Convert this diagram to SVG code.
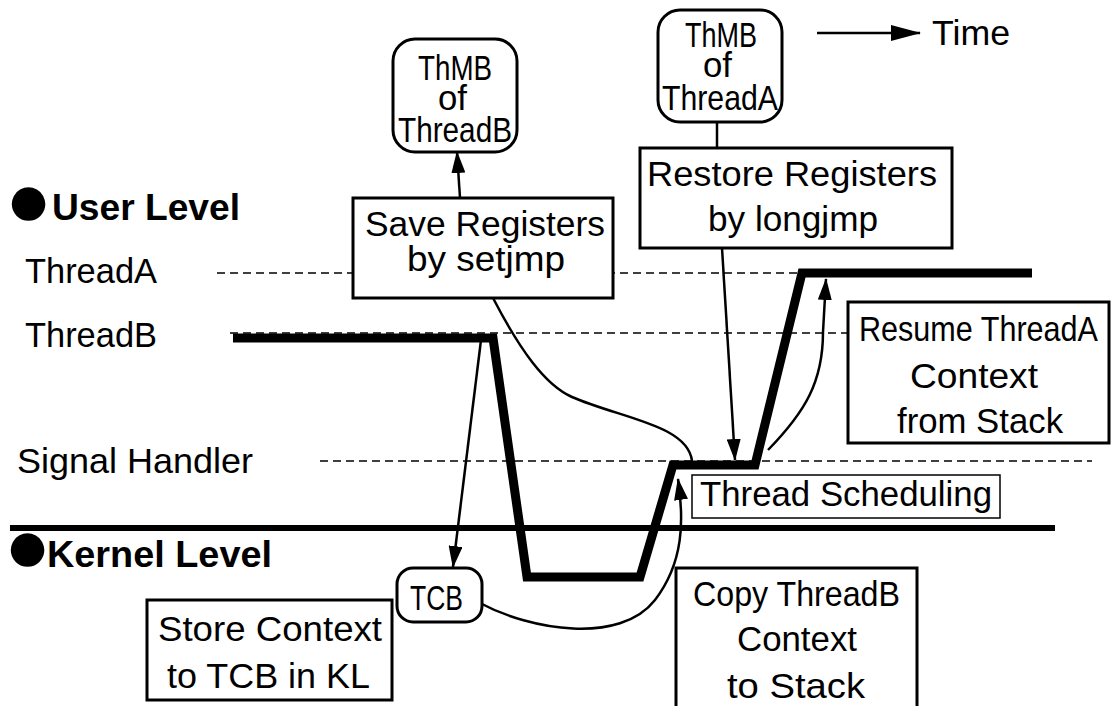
<svg xmlns="http://www.w3.org/2000/svg" width="1111" height="706" viewBox="0 0 1111 706">
<defs>
<marker id="ah" markerUnits="userSpaceOnUse" markerWidth="22" markerHeight="14" refX="21" refY="7" orient="auto"><path d="M0,0 L22,7 L0,14 z" fill="#000"/></marker>
<marker id="ahT" markerUnits="userSpaceOnUse" markerWidth="30" markerHeight="16" refX="29" refY="8" orient="auto"><path d="M0,0 L30,8 L0,16 z" fill="#000"/></marker>
</defs>
<style>
text{font-family:"Liberation Sans",Arial,sans-serif;font-size:35px;fill:#000}
.b{font-weight:bold;font-size:37px}
.box{fill:#fff;stroke:#000;stroke-width:3}
.thin{fill:#fff;stroke:#000;stroke-width:1.5}
.dash{stroke:#000;stroke-width:1.3;stroke-dasharray:8 5;fill:none}
.con{stroke:#000;stroke-width:2.5;fill:none}
</style>
<rect width="1111" height="706" fill="#fff"/>
<g id="levels">
<line x1="217" y1="273" x2="802" y2="273" class="dash"/>
<line x1="230" y1="333" x2="848" y2="333" class="dash"/>
<line x1="320" y1="461" x2="1092" y2="461" class="dash"/>
<line x1="10" y1="528" x2="1055" y2="528" stroke="#000" stroke-width="6"/>
<text class="b" x="5" y="226"><tspan font-size="78">●</tspan><tspan x="52" y="220" textLength="188" lengthAdjust="spacingAndGlyphs">User Level</tspan></text>
<text class="b" x="4" y="572"><tspan font-size="78">●</tspan><tspan x="47" y="567" textLength="225" lengthAdjust="spacingAndGlyphs">Kernel Level</tspan></text>
<text x="25" y="283" font-size="36" textLength="132" lengthAdjust="spacingAndGlyphs">ThreadA</text>
<text x="25" y="347" font-size="36" textLength="132" lengthAdjust="spacingAndGlyphs">ThreadB</text>
<text x="17" y="473" font-size="36" textLength="236" lengthAdjust="spacingAndGlyphs">Signal Handler</text>
</g>
<g id="timeline">
<path d="M233,338 L493,338 L527,577 L640,577 L673,465 L755,465 L802,273 L1032,273" fill="none" stroke="#000" stroke-width="9" stroke-linejoin="miter"/>
</g>
<g id="connectors">
<line x1="460" y1="198" x2="457" y2="152" class="con" marker-end="url(#ah)"/>
<line x1="717" y1="122" x2="717" y2="148" class="con"/>
<line x1="722" y1="248" x2="735" y2="460" class="con" marker-end="url(#ah)"/>
<path d="M493,298 C520,350 545,385 572,397 C620,418 688,425 692,461" class="con"/>
<line x1="481" y1="340" x2="453" y2="567" class="con" marker-end="url(#ah)"/>
<path d="M480,603 C530,630 620,645 655,600 C684,562 684,520 678,479" class="con" marker-end="url(#ah)"/>
<path d="M768,450 C805,412 823,382 823,332 L826,279" class="con" marker-end="url(#ah)"/>
<line x1="817" y1="33" x2="920" y2="33" class="con" marker-end="url(#ahT)"/>
</g>
<g id="time-label"><text x="932" y="45" font-size="36" textLength="78" lengthAdjust="spacingAndGlyphs">Time</text></g>
<g id="thmb-b">
<rect x="393" y="39" width="124" height="113" rx="22" class="box"/>
<text x="418" y="80" font-size="32" textLength="74" lengthAdjust="spacingAndGlyphs">ThMB</text>
<text x="438" y="110" font-size="25" textLength="29" lengthAdjust="spacingAndGlyphs">of</text>
<text x="398" y="142" font-size="29" textLength="114" lengthAdjust="spacingAndGlyphs">ThreadB</text>
</g>
<g id="thmb-a">
<rect x="658" y="10" width="124" height="112" rx="22" class="box"/>
<text x="685" y="47" font-size="32" textLength="72" lengthAdjust="spacingAndGlyphs">ThMB</text>
<text x="703" y="77" font-size="25" textLength="29" lengthAdjust="spacingAndGlyphs">of</text>
<text x="662" y="110" font-size="29" textLength="116" lengthAdjust="spacingAndGlyphs">ThreadA</text>
</g>
<g id="save">
<rect x="353" y="198" width="260" height="100" class="box"/>
<text x="365" y="236" textLength="240" lengthAdjust="spacingAndGlyphs">Save Registers</text>
<text x="407" y="271" textLength="158" lengthAdjust="spacingAndGlyphs">by setjmp</text>
</g>
<g id="restore">
<rect x="640" y="148" width="312" height="100" class="box"/>
<text x="647" y="186" textLength="290" lengthAdjust="spacingAndGlyphs">Restore Registers</text>
<text x="708" y="231" textLength="170" lengthAdjust="spacingAndGlyphs">by longjmp</text>
</g>
<g id="resume">
<rect x="848" y="302" width="261" height="141" class="box"/>
<text x="859" y="341" textLength="239" lengthAdjust="spacingAndGlyphs">Resume ThreadA</text>
<text x="910" y="388" textLength="128" lengthAdjust="spacingAndGlyphs">Context</text>
<text x="897" y="433" textLength="166" lengthAdjust="spacingAndGlyphs">from Stack</text>
</g>
<g id="scheduling">
<rect x="692" y="475" width="308" height="43" class="thin"/>
<text x="700" y="506" textLength="292" lengthAdjust="spacingAndGlyphs">Thread Scheduling</text>
</g>
<g id="copy">
<rect x="676" y="568" width="241" height="145" class="box"/>
<text x="693" y="606" textLength="207" lengthAdjust="spacingAndGlyphs">Copy ThreadB</text>
<text x="737" y="651" textLength="120" lengthAdjust="spacingAndGlyphs">Context</text>
<text x="727" y="698" textLength="138" lengthAdjust="spacingAndGlyphs">to Stack</text>
</g>
<g id="tcb">
<rect x="397" y="568" width="85" height="54" rx="16" class="box"/>
<text x="410" y="610" font-size="36" textLength="53" lengthAdjust="spacingAndGlyphs">TCB</text>
</g>
<g id="store">
<rect x="147" y="600" width="245" height="100" class="box"/>
<text x="158" y="641" textLength="224" lengthAdjust="spacingAndGlyphs">Store Context</text>
<text x="167" y="688" textLength="203" lengthAdjust="spacingAndGlyphs">to TCB in KL</text>
</g>
</svg>
